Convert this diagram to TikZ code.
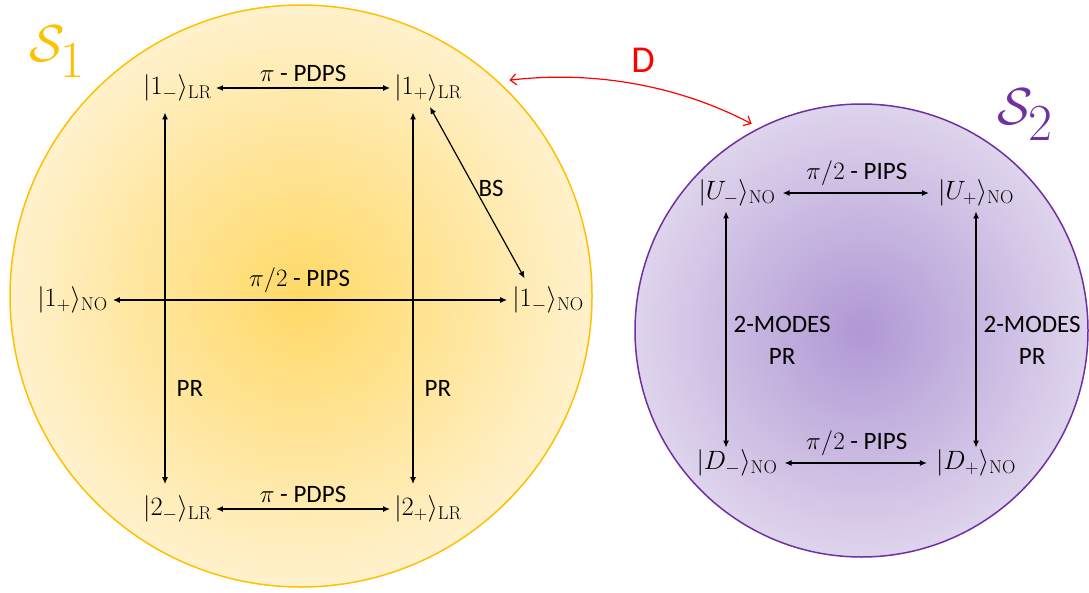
\documentclass[tikz,border=0pt]{standalone}
\usepackage{fix-cm}
\usepackage[no-math]{fontspec}
\setmainfont{Carlito}
\usetikzlibrary{arrows.meta}
\definecolor{goldline}{RGB}{255,192,0}
\definecolor{goldin}{RGB}{255,217,102}
\definecolor{goldout}{RGB}{255,241,204}
\definecolor{purpline}{RGB}{112,48,160}
\definecolor{purpin}{RGB}{176,152,212}
\definecolor{purpout}{RGB}{222,212,236}
\definecolor{dred}{RGB}{255,0,0}
\begin{document}
\begin{tikzpicture}[x=1pt,y=-1pt,
  every node/.style={font=\fontsize{25}{32}\selectfont},
  ket/.style={inner sep=2pt, font=\fontsize{26.5}{32}\selectfont},
  lbl/.style={inner sep=0pt},
  dbl/.style={{Latex[length=7pt,width=6pt]}-{Latex[length=7pt,width=6pt]}, line width=1.2pt},
  sphere/.style={circle, shade, line width=1.5pt, inner sep=0pt},
  setlbl/.style={font=\fontsize{52}{60}\selectfont, inner sep=0pt},
  redarr/.style={dred, line width=1.2pt, {Straight Barb[length=6pt,width=11pt]}-{Straight Barb[length=6pt,width=11pt]}}
]
\useasboundingbox (0,0) rectangle (1089,592);

% spheres
\node[sphere, draw=goldline, inner color=goldin, outer color=goldout, minimum size=582pt] (S1) at (301,296) {};
\node[sphere, draw=purpline, inner color=purpin, outer color=purpout, minimum size=453pt] (S2) at (861.5,330.5) {};

% set labels
\node[setlbl, text=goldline] (L1) at (57,52) {$\mathcal{S}_{\textstyle 1}$};
\node[setlbl, text=purpline] (L2) at (1025,115) {$\mathcal{S}_{\textstyle 2}$};

% D connector
\node[font=\fontsize{38}{40}\selectfont, text=dred, inner sep=0pt] (D) at (643,60) {D};
\path (S1.center) ++(46:300pt) coordinate (dL);
\path (S2.center) ++(118:234pt) coordinate (dR);
\draw[redarr] (dL) .. controls +(85,-10) and +(-72,-38) .. (dR);

% left sphere states
\node[ket] (a1) at (177.5,88) {$|1_-\rangle_{\mathrm{LR}}$};
\node[ket] (a2) at (428,88) {$|1_+\rangle_{\mathrm{LR}}$};
\node[ket] (b1) at (72.5,300) {$|1_+\rangle_{\mathrm{NO}}$};
\node[ket] (b2) at (548,300) {$|1_-\rangle_{\mathrm{NO}}$};
\node[ket] (c1) at (177.5,509) {$|2_-\rangle_{\mathrm{LR}}$};
\node[ket] (c2) at (428,509) {$|2_+\rangle_{\mathrm{LR}}$};

\draw[dbl, shorten <=2pt, shorten >=2pt] (a1) -- (a2)
  node[midway, above=6pt, lbl] (t1) {$\pi$ - PDPS};
\draw[dbl, shorten <=2pt, shorten >=2pt] (c1) -- (c2)
  node[midway, above=6pt, lbl] (t2) {$\pi$ - PDPS};
\draw[dbl, shorten <=3pt, shorten >=3pt] (b1) -- (b2)
  node[pos=0.474, above=7pt, lbl] (t3) {$\pi/2$ - PIPS};
\draw[dbl, shorten <=9pt, shorten >=9.5pt] ([xshift=-12.5pt]a1.south) -- ([xshift=-12.5pt]c1.north)
  node[pos=0.73, right=11pt, lbl] (t4) {PR};
\draw[dbl, shorten <=9pt, shorten >=9.5pt] ([xshift=-15pt]a2.south) -- ([xshift=-15pt]c2.north)
  node[pos=0.73, right=11pt, lbl] (t5) {PR};
\draw[dbl, shorten <=4pt, shorten >=7pt] (a2.south) -- ([xshift=-20pt]b2.north)
  node[pos=0.47, right=3pt, lbl] (t6) {BS};

% right sphere states
\node[ket] (u1) at (737,193) {$|U_-\rangle_{\mathrm{NO}}$};
\node[ket] (u2) at (976,193) {$|U_+\rangle_{\mathrm{NO}}$};
\node[ket] (d1) at (737,463) {$|D_-\rangle_{\mathrm{NO}}$};
\node[ket] (d2) at (976,463) {$|D_+\rangle_{\mathrm{NO}}$};

\draw[dbl, shorten <=5pt, shorten >=7pt] (u1) -- (u2)
  node[midway, above=7pt, lbl] (r1) {$\pi/2$ - PIPS};
\draw[dbl, shorten <=5pt, shorten >=7pt] (d1) -- (d2)
  node[midway, above=7pt, lbl] (r2) {$\pi/2$ - PIPS};
\draw[dbl, shorten <=3pt, shorten >=0pt] ([xshift=-11pt]u1.south) -- ([xshift=-11pt]d1.north)
  node[pos=0.55, right=7pt, lbl, align=center] (r3) {2-MODES\\PR};
\draw[dbl, shorten <=3pt, shorten >=0pt] (u2.south) -- (d2.north)
  node[pos=0.55, right=7pt, lbl, align=center] (r4) {2-MODES\\PR};
\end{tikzpicture}
\end{document}
